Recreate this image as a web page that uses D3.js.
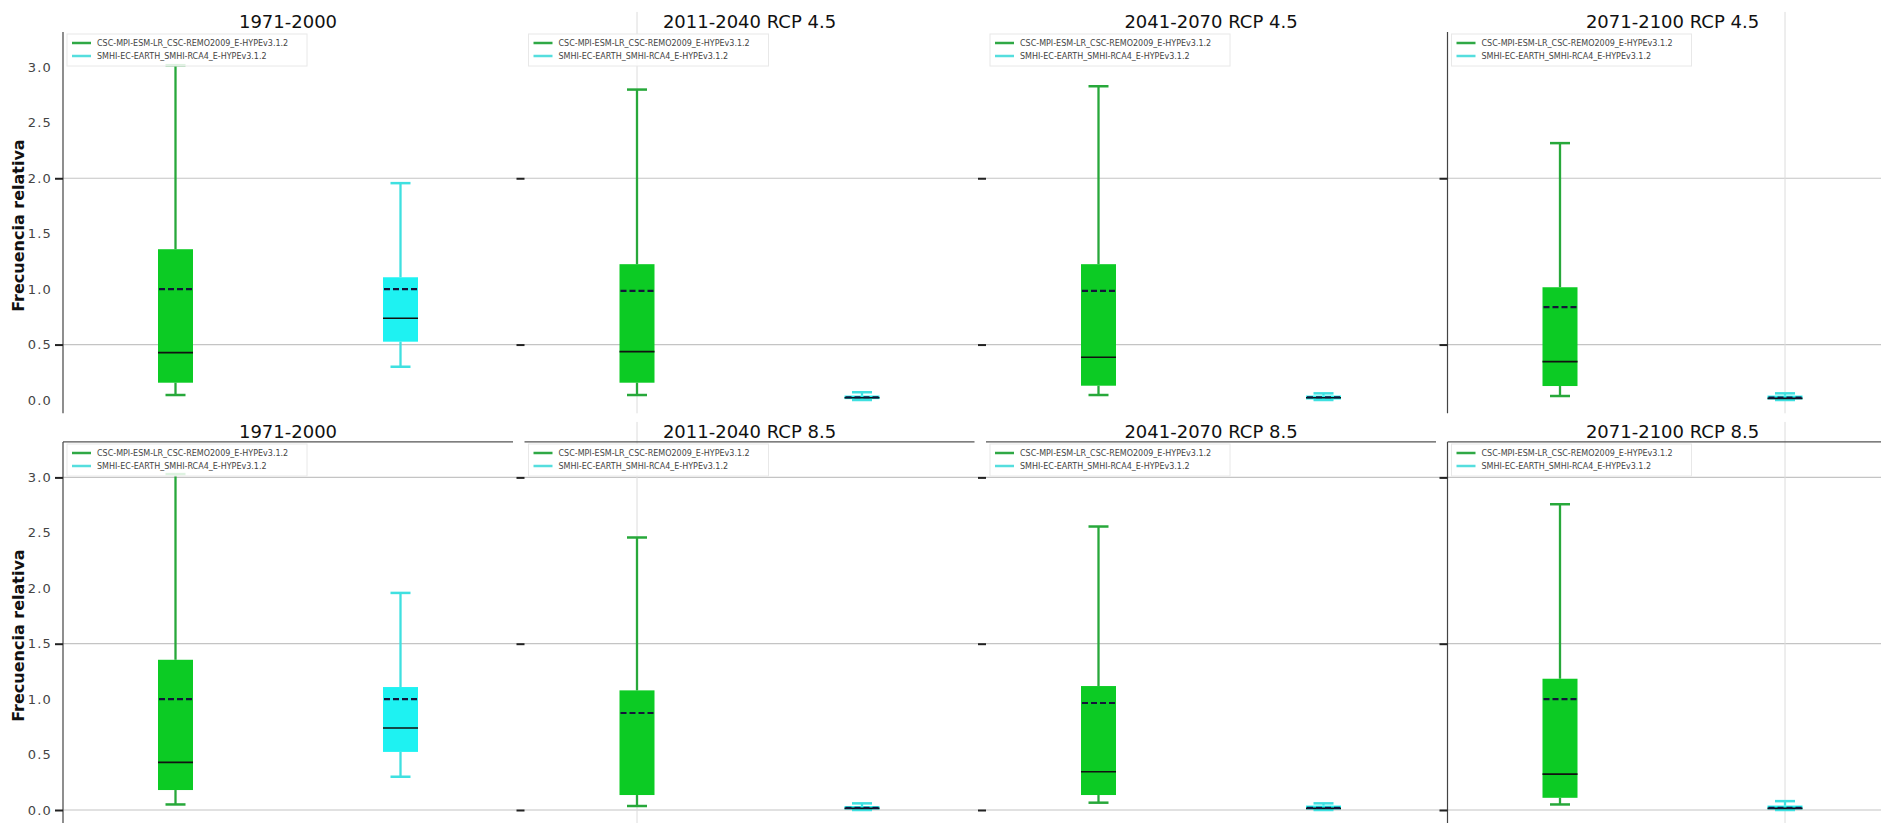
<!DOCTYPE html>
<html><head><meta charset="utf-8">
<script src="https://cdn.jsdelivr.net/npm/d3@7"></script>
<style>
html,body{margin:0;padding:0;background:#fff;}
svg{display:block;font-family:"DejaVu Sans",sans-serif;}
</style></head>
<body>
<svg id="chart" width="1881" height="823"></svg>
<script>
// ---- data ----
const titlesTop = ["1971-2000", "2011-2040 RCP 4.5", "2041-2070 RCP 4.5", "2071-2100 RCP 4.5"];
const titlesBottom = ["1971-2000", "2011-2040 RCP 8.5", "2041-2070 RCP 8.5", "2071-2100 RCP 8.5"];
const seriesNames = ["CSC-MPI-ESM-LR_CSC-REMO2009_E-HYPEv3.1.2", "SMHI-EC-EARTH_SMHI-RCA4_E-HYPEv3.1.2"];
const yLabel = "Frecuencia relativa";
const yTickValues = [0.0, 0.5, 1.0, 1.5, 2.0, 2.5, 3.0];
const yTickMarksTop = [0.5, 2.0];
const yTickMarksBottom = [0.0, 1.5, 3.0];

// panel order: top row (4) then bottom row (4)
const greenLow    = [0.045, 0.045, 0.045, 0.036, 0.05, 0.036, 0.066, 0.05];
const greenQ1     = [0.156, 0.156, 0.129, 0.126, 0.18, 0.135, 0.135, 0.11];
const greenMedian = [0.427, 0.436, 0.385, 0.346, 0.43, null, 0.345, 0.324];
const greenMean   = [1.0, 0.984, 0.984, 0.837, 1.0, 0.875, 0.965, 1.0];
const greenQ3     = [1.36, 1.225, 1.225, 1.017, 1.355, 1.079, 1.118, 1.184];
const greenHigh   = [3.02, 2.80, 2.83, 2.317, 3.03, 2.458, 2.557, 2.758];

const cyanLow    = [0.30, 0.0, 0.0, 0.0, 0.30, 0.0, 0.0, 0.0];
const cyanQ1     = [0.526, 0.008, 0.005, 0.005, 0.524, 0.005, 0.005, 0.005];
const cyanMedian = [0.737, 0.02, 0.02, 0.015, 0.74, 0.015, 0.015, 0.015];
const cyanMean   = [1.0, 0.025, 0.025, 0.022, 1.0, 0.02, 0.02, 0.02];
const cyanQ3     = [1.107, 0.04, 0.04, 0.04, 1.109, 0.035, 0.04, 0.04];
const cyanHigh   = [1.956, 0.07, 0.06, 0.06, 1.958, 0.06, 0.06, 0.08];

const positions = [1, 2];
const vGrid = [[], [1], [], [2]];

// ---- layout ----
const svg = d3.select("#chart");
svg.append("rect").attr("width", 1881).attr("height", 823).attr("fill", "#fff");

const colX0 = [63, 524.5, 986, 1447.5];
const panelW = 450;
const rowOff = [0, 410];
const yDomain = [-0.12, 3.32];

const colors = {
  green: {fill: "#0ccb24", line: "#27a83a", legend: "#2fa845"},
  cyan:  {fill: "#1ef2f2", line: "#3fe0e0", legend: "#55dede"}
};

function makeY(row) {
  const k = (400 - 67.4) / 3;
  return d3.scaleLinear().domain(yDomain)
    .range([400 + rowOff[row] + yDomain[0] * -k, 400 + rowOff[row] - yDomain[1] * k]);
}

const x = d3.scaleLinear().domain([0.5, 2.5]).range([0, panelW]);

// horizontal grid lines spanning the figure per row
[0, 1].forEach(row => {
  const y = makeY(row);
  const marks = row === 0 ? yTickMarksTop : yTickMarksBottom;
  svg.append("g").selectAll("line").data(marks).join("line")
    .attr("x1", colX0[0]).attr("x2", 1881)
    .attr("y1", d => y(d)).attr("y2", d => y(d))
    .attr("stroke", "#c4c4c4").attr("stroke-width", 1.2);
});

for (let row = 0; row < 2; row++) {
  const y = makeY(row);
  const top = y(yDomain[1]);
  const bottom = y(yDomain[0]);
  for (let col = 0; col < 4; col++) {
    const i = row * 4 + col;
    const g = svg.append("g").attr("transform", `translate(${colX0[col]},0)`);

    g.selectAll(".vg").data(vGrid[col]).join("line")
      .attr("x1", d => x(d)).attr("x2", d => x(d))
      .attr("y1", top - 20).attr("y2", Math.min(bottom, 823))
      .attr("stroke", "#dcdcdc").attr("stroke-width", 1);

    if (row === 1) {
      g.append("line").attr("x1", 0).attr("x2", panelW)
        .attr("y1", top).attr("y2", top)
        .attr("stroke", "#555").attr("stroke-width", 1.2);
    }

    const marks = row === 0 ? yTickMarksTop : yTickMarksBottom;
    const axis = d3.axisLeft(y).tickValues(marks).tickSize(8).tickFormat("");
    const ag = g.append("g").call(axis);
    ag.selectAll(".tick line").attr("stroke", "#222").attr("stroke-width", 2);
    if (col === 0 || col === 3) {
      ag.select(".domain").attr("d", `M0,${top}V${bottom}`).attr("stroke", "#444").attr("stroke-width", 1.2);
    } else {
      ag.select(".domain").remove();
    }
    if (col === 0) {
      g.append("g").selectAll("text").data(yTickValues).join("text")
        .attr("x", -11).attr("y", d => y(d)).attr("dy", "0.35em")
        .attr("text-anchor", "end").attr("font-size", 13)
        .attr("letter-spacing", "1.2px").attr("fill", "#444")
        .text(d => d3.format(".1f")(d));
      g.append("text")
        .attr("transform", `translate(-39,${(y(3.32) + y(-0.12)) / 2 + 3}) rotate(-90)`)
        .attr("text-anchor", "middle").attr("font-size", 16).attr("font-weight", "bold")
        .attr("fill", "#111").text(yLabel);
    }

    g.append("text").attr("x", panelW / 2).attr("y", 28 + rowOff[row])
      .attr("text-anchor", "middle").attr("font-size", 18).attr("fill", "#111")
      .text(row === 0 ? titlesTop[col] : titlesBottom[col]);

    const stats = [
      {pos: positions[0], c: colors.green, low: greenLow[i], q1: greenQ1[i], med: greenMedian[i], mean: greenMean[i], q3: greenQ3[i], high: greenHigh[i]},
      {pos: positions[1], c: colors.cyan, low: cyanLow[i], q1: cyanQ1[i], med: cyanMedian[i], mean: cyanMean[i], q3: cyanQ3[i], high: cyanHigh[i]}
    ];
    const bw = 35, cw = 20;
    stats.forEach(s => {
      const cx = x(s.pos);
      const bg = g.append("g");
      bg.append("line").attr("x1", cx).attr("x2", cx).attr("y1", y(s.q3)).attr("y2", y(s.high))
        .attr("stroke", s.c.line).attr("stroke-width", 2.3);
      bg.append("line").attr("x1", cx).attr("x2", cx).attr("y1", y(s.q1)).attr("y2", y(s.low))
        .attr("stroke", s.c.line).attr("stroke-width", 2.3);
      [s.high, s.low].forEach(v => bg.append("line")
        .attr("x1", cx - cw / 2).attr("x2", cx + cw / 2).attr("y1", y(v)).attr("y2", y(v))
        .attr("stroke", s.c.line).attr("stroke-width", 2.5));
      const h = Math.max(y(s.q1) - y(s.q3), 2);
      bg.append("rect").attr("x", cx - bw / 2).attr("width", bw)
        .attr("y", y(s.q3)).attr("height", h).attr("fill", s.c.fill);
      if (s.med !== null) {
        bg.append("line").attr("x1", cx - bw / 2).attr("x2", cx + bw / 2)
          .attr("y1", y(s.med)).attr("y2", y(s.med)).attr("stroke", "#111").attr("stroke-width", 1.6);
      }
      bg.append("line").attr("x1", cx - bw / 2 + 1).attr("x2", cx + bw / 2)
        .attr("y1", y(s.mean)).attr("y2", y(s.mean)).attr("stroke", "#14143a")
        .attr("stroke-width", 2.2).attr("stroke-dasharray", "6,3");
    });

    const lg = g.append("g").attr("transform", `translate(0,${rowOff[row]})`);
    lg.append("rect").attr("x", 4).attr("y", 34).attr("width", 240).attr("height", 32)
      .attr("fill", "#fff").attr("fill-opacity", 0.85).attr("stroke", "#e8e8e8");
    seriesNames.forEach((name, k) => {
      const ly = 43 + k * 13;
      lg.append("line").attr("x1", 9).attr("x2", 28).attr("y1", ly).attr("y2", ly)
        .attr("stroke", k === 0 ? colors.green.legend : colors.cyan.legend).attr("stroke-width", 2.5);
      lg.append("text").attr("x", 34).attr("y", ly).attr("dy", "0.35em")
        .attr("font-size", 8).attr("fill", "#444").text(name);
    });
  }
}
</script>
</body></html>
